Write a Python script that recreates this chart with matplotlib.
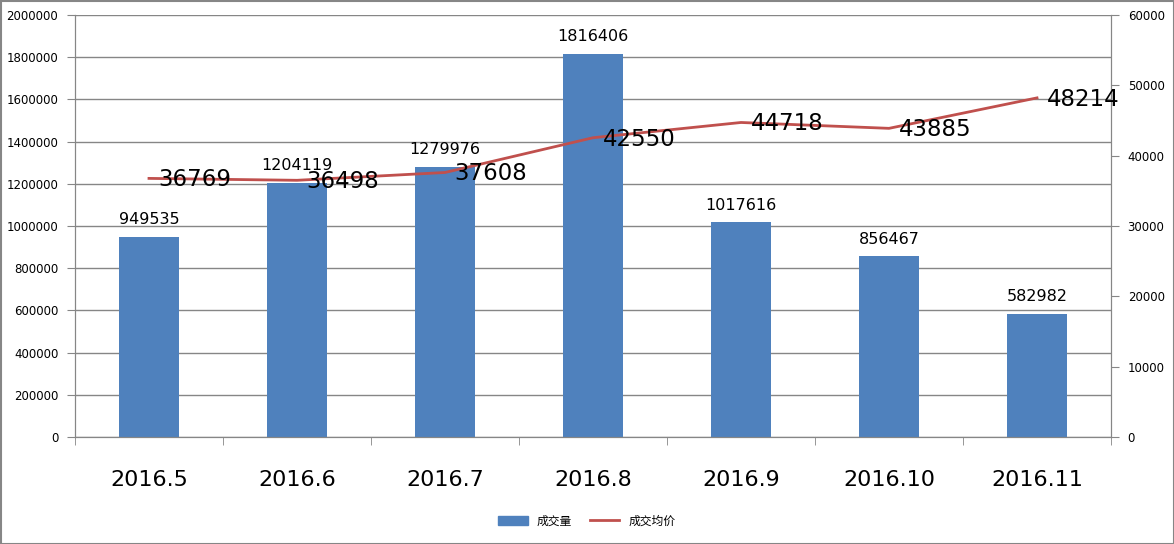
import matplotlib
matplotlib.use("Agg")
import matplotlib.pyplot as plt
from matplotlib.patches import Rectangle
import numpy as np

plt.rcParams['font.family'] = ['DejaVu Sans', 'Noto Sans CJK SC']

categories = ["2016.5", "2016.6", "2016.7", "2016.8", "2016.9", "2016.10", "2016.11"]
volume = [949535, 1204119, 1279976, 1816406, 1017616, 856467, 582982]
avg_price = [36769, 36498, 37608, 42550, 44718, 43885, 48214]
vol_ticks = list(range(0, 2000001, 200000))
price_ticks = list(range(0, 60001, 10000))

bar_color = "#4F81BD"
line_color = "#C0504D"
axis_gray = "#868686"

fig = plt.figure(figsize=(11.74, 5.44), dpi=100)
ax = fig.add_axes([75/1174, 1 - 437/544, (1111-75)/1174, (437-15)/544])
ax2 = ax.twinx()

x = np.arange(len(categories))
bars = ax.bar(x, volume, width=0.405, color=bar_color, zorder=2)
ax.set_xlim(-0.5, len(categories) - 0.5)
ax.set_ylim(0, 2000000)
ax.set_yticks(vol_ticks)
ax.set_yticklabels([str(v) for v in vol_ticks], fontsize=8.5)
ax.yaxis.grid(True, color=axis_gray, linewidth=1, zorder=0)
ax.set_axisbelow(True)
ax.set_xticks(x)
ax.set_xticklabels(categories, fontsize=16)
ax.set_xticks(np.arange(-0.5, len(categories)), minor=True)
ax.tick_params(axis='x', which='major', length=0, pad=24)
ax.tick_params(axis='x', which='minor', length=6, color=axis_gray)
ax.tick_params(axis='y', length=6, color=axis_gray, pad=6)

for b, v in zip(bars, volume):
    ax.annotate(str(v), (b.get_x() + b.get_width()/2, v), xytext=(0, 7), textcoords='offset points',
                ha='center', va='bottom', fontsize=11.5)

ax2.plot(x, avg_price, color=line_color, linewidth=2, zorder=3)
ax2.set_ylim(0, 60000)
ax2.set_yticks(price_ticks)
ax2.set_yticklabels([str(v) for v in price_ticks], fontsize=8.5)
ax2.tick_params(axis='y', length=6, color=axis_gray, pad=6)
for xi, v in zip(x, avg_price):
    ax2.annotate(str(v), (xi, v), xytext=(7, -1), textcoords='offset points',
                 ha='left', va='center', fontsize=16.5)

for a in (ax, ax2):
    for s in a.spines.values():
        s.set_color(axis_gray)
    a.spines['top'].set_visible(False)

handles = [Rectangle((0, 0), 1, 1, color=bar_color),
           plt.Line2D([0], [0], color=line_color, linewidth=2)]
fig.legend(handles, ["成交量", "成交均价"], loc='center', bbox_to_anchor=(0.5, 1 - 521/544),
           ncol=2, frameon=False, prop={'family': ['Noto Sans CJK SC'], 'size': 8.5},
           handlelength=2.5, columnspacing=1.5)

fig.patches.append(Rectangle((0.5/1174, 0.5/544), 1 - 1/1174, 1 - 1/544, transform=fig.transFigure,
                             fill=False, edgecolor=axis_gray, linewidth=1.5))

fig.savefig("out.png", dpi=100)
